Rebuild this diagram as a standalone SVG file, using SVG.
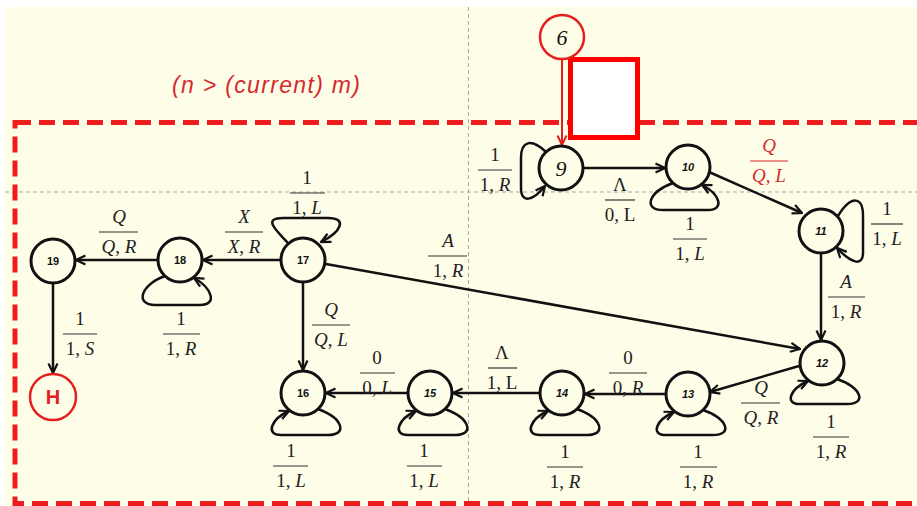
<svg xmlns="http://www.w3.org/2000/svg" width="917" height="506" viewBox="0 0 917 506">
<style>
.bg{fill:#fefde8}
.guide{stroke:#a8a8a0;stroke-width:1;stroke-dasharray:4,3;fill:none}
.box{fill:none;stroke:#ee1c1c;stroke-width:5;stroke-dasharray:16,8}
.node{fill:#fefde8;stroke:#111;stroke-width:3}
.rnode{fill:#fefde8;stroke:#e3201f;stroke-width:2.5}
.edge{fill:none;stroke:#111;stroke-width:2.5;marker-end:url(#ah)}
.redge{fill:none;stroke:#e3201f;stroke-width:2;marker-end:url(#ahr)}
.nl{font-family:"Liberation Sans",Arial,sans-serif;font-size:11px;font-weight:bold;text-anchor:middle;fill:#111}
.nli{font-style:italic}
.ns{font-family:"Liberation Serif","Times New Roman",serif;font-size:22px;font-style:italic;text-anchor:middle;fill:#111}
.lbl text{font-family:"Liberation Serif","Times New Roman",serif;font-size:19px;text-anchor:middle;fill:#222}
.lbl line{stroke:#333;stroke-width:1.2}
.red text{fill:#d42a2f}
.red line{stroke:#d42a2f}
.it{font-style:italic}
.title{font-family:"Liberation Sans",Arial,sans-serif;font-size:23px;font-style:italic;fill:#d42a2f}
</style>
<defs>
<marker id="ah" viewBox="0 0 12 12" refX="11" refY="6" markerWidth="12" markerHeight="12" markerUnits="userSpaceOnUse" orient="auto"><path d="M1.5,1.5 L11,6 L1.5,10.5" fill="none" stroke="#111" stroke-width="2.2"/></marker>
<marker id="ahr" viewBox="0 0 12 12" refX="11" refY="6" markerWidth="12" markerHeight="12" markerUnits="userSpaceOnUse" orient="auto"><path d="M1.5,1.5 L11,6 L1.5,10.5" fill="none" stroke="#e3201f" stroke-width="2"/></marker>
</defs>
<rect x="0" y="0" width="917" height="506" fill="#ffffff"/>
<rect class="bg" x="5" y="7" width="912" height="499"/>
<line class="guide" x1="468.5" y1="7" x2="468.5" y2="506"/>
<line class="guide" x1="5" y1="192" x2="917" y2="192"/>
<text class="title" x="172" y="93" textLength="188" lengthAdjust="spacing">(n &gt; (current) m)</text>
<rect class="box" x="15" y="122.5" width="930" height="381"/>
<rect x="570.5" y="59.5" width="67" height="78" fill="#ffffff" stroke="#f00" stroke-width="5"/>

<g id="connectors">
<path class="redge" d="M562,60 L562,145"/>
<path class="edge" d="M584,168 L665,168"/>
<path class="edge" d="M709,172 L802,213"/>
<path class="edge" d="M821,254 L821,340"/>
<path class="edge" d="M799,366 L710,392"/>
<path class="edge" d="M665,394 L585,394"/>
<path class="edge" d="M539,393 L453,393"/>
<path class="edge" d="M407,393 L326,393"/>
<path class="edge" d="M303,283 L303,370"/>
<path class="edge" d="M326,264 L800,349"/>
<path class="edge" d="M280,260 L203,260"/>
<path class="edge" d="M157,260 L76,260"/>
<path class="edge" d="M53,284 L53,373"/>
<!-- self loops -->
<path class="edge" transform="translate(561,168)" d="M-15,-16 C-30,-30 -40,-27 -40,-10 L-40,20 C-40,36 -28,33 -16,18"/>
<path class="edge" transform="translate(688,167) scale(-1,1)" d="M15,16 C40,25 45,43 25,43 L-20,43 C-37,43 -32,27 -14,18"/>
<path class="edge" transform="translate(821,231)" d="M17,-15 C30,-36 42,-35 42,-15 L42,22 C42,36 30,32 16,17"/>
<path class="edge" transform="translate(822,363)" d="M15,16 C40,25 45,41 25,41 L-22,41 C-38,41 -32,26 -14,18"/>
<path class="edge" transform="translate(688,394)" d="M15,16 C40,25 45,41 25,41 L-22,41 C-38,41 -32,26 -14,18"/>
<path class="edge" transform="translate(562,393)" d="M15,16 C40,25 45,42 25,42 L-22,42 C-38,42 -32,26 -14,18"/>
<path class="edge" transform="translate(430,393)" d="M15,16 C40,25 45,42 25,42 L-22,42 C-38,42 -32,26 -14,18"/>
<path class="edge" transform="translate(303,393)" d="M15,16 C40,25 45,42 25,42 L-22,42 C-38,42 -32,26 -14,18"/>
<path class="edge" transform="translate(303,260)" d="M-15,-17 C-25,-28 -42,-42 -20,-42 L25,-42 C45,-42 38,-28 18,-18"/>
<path class="edge" transform="translate(180,260) scale(-1,1)" d="M15,16 C40,25 45,45 25,45 L-20,45 C-38,45 -32,28 -14,18"/>
</g>

<g id="labels">
<g class="lbl"><text x="495" y="161">1</text><line x1="478" y1="170" x2="512" y2="170"/><text x="495" y="191">1, <tspan class="it">R</tspan></text></g>
<g class="lbl"><text x="620" y="191">Λ</text><line x1="605" y1="200" x2="635" y2="200"/><text x="620" y="221">0, L</text></g>
<g class="lbl"><text x="690" y="230">1</text><line x1="673" y1="239" x2="707" y2="239"/><text x="690" y="260">1, <tspan class="it">L</tspan></text></g>
<g class="lbl red"><text x="769" y="152" class="it">Q</text><line x1="750" y1="161" x2="788" y2="161"/><text x="769" y="182"><tspan class="it">Q</tspan>, <tspan class="it">L</tspan></text></g>
<g class="lbl"><text x="887" y="215">1</text><line x1="871" y1="224" x2="903" y2="224"/><text x="887" y="245">1, <tspan class="it">L</tspan></text></g>
<g class="lbl"><text x="846" y="288" class="it">A</text><line x1="828" y1="297" x2="865" y2="297"/><text x="846" y="318">1, <tspan class="it">R</tspan></text></g>
<g class="lbl"><text x="831" y="428">1</text><line x1="813" y1="437" x2="849" y2="437"/><text x="831" y="458">1, <tspan class="it">R</tspan></text></g>
<g class="lbl"><text x="761" y="394" class="it">Q</text><line x1="741" y1="403" x2="780" y2="403"/><text x="761" y="424"><tspan class="it">Q</tspan>, <tspan class="it">R</tspan></text></g>
<g class="lbl"><text x="698" y="458">1</text><line x1="680" y1="467" x2="717" y2="467"/><text x="698" y="488">1, <tspan class="it">R</tspan></text></g>
<g class="lbl"><text x="628" y="364">0</text><line x1="609" y1="373" x2="647" y2="373"/><text x="628" y="394">0, <tspan class="it">R</tspan></text></g>
<g class="lbl"><text x="565" y="458">1</text><line x1="547" y1="467" x2="583" y2="467"/><text x="565" y="488">1, <tspan class="it">R</tspan></text></g>
<g class="lbl"><text x="502" y="359">Λ</text><line x1="488" y1="368" x2="517" y2="368"/><text x="502" y="389">1, L</text></g>
<g class="lbl"><text x="424" y="457">1</text><line x1="407" y1="466" x2="442" y2="466"/><text x="424" y="487">1, <tspan class="it">L</tspan></text></g>
<g class="lbl"><text x="377" y="364">0</text><line x1="360" y1="373" x2="395" y2="373"/><text x="377" y="394">0, <tspan class="it">L</tspan></text></g>
<g class="lbl"><text x="291" y="457">1</text><line x1="273" y1="466" x2="308" y2="466"/><text x="291" y="487">1, <tspan class="it">L</tspan></text></g>
<g class="lbl"><text x="331" y="316" class="it">Q</text><line x1="312" y1="325" x2="350" y2="325"/><text x="331" y="346"><tspan class="it">Q</tspan>, <tspan class="it">L</tspan></text></g>
<g class="lbl"><text x="448" y="247" class="it">A</text><line x1="428" y1="256" x2="467" y2="256"/><text x="448" y="277">1, <tspan class="it">R</tspan></text></g>
<g class="lbl"><text x="307" y="184">1</text><line x1="290" y1="193" x2="325" y2="193"/><text x="307" y="214">1, <tspan class="it">L</tspan></text></g>
<g class="lbl"><text x="244" y="223" class="it">X</text><line x1="225" y1="232" x2="263" y2="232"/><text x="244" y="253"><tspan class="it">X</tspan>, <tspan class="it">R</tspan></text></g>
<g class="lbl"><text x="181" y="325">1</text><line x1="163" y1="334" x2="200" y2="334"/><text x="181" y="355">1, <tspan class="it">R</tspan></text></g>
<g class="lbl"><text x="119" y="223" class="it">Q</text><line x1="99" y1="232" x2="138" y2="232"/><text x="119" y="253"><tspan class="it">Q</tspan>, <tspan class="it">R</tspan></text></g>
<g class="lbl"><text x="80" y="325">1</text><line x1="63" y1="334" x2="97" y2="334"/><text x="80" y="355">1, <tspan class="it">S</tspan></text></g>
</g>

<g id="n6"><circle class="rnode" cx="562" cy="37" r="22"/><text class="ns" x="562" y="45">6</text></g>
<g id="n9"><circle class="node" cx="561" cy="168" r="22"/><text class="ns" x="561" y="176">9</text></g>
<g id="n10"><circle class="node" cx="688" cy="167" r="22"/><text class="nl nli" x="688" y="171">10</text></g>
<g id="n11"><circle class="node" cx="821" cy="231" r="22"/><text class="nl nli" x="821" y="235">11</text></g>
<g id="n12"><circle class="node" cx="822" cy="363" r="22"/><text class="nl nli" x="822" y="367">12</text></g>
<g id="n13"><circle class="node" cx="688" cy="394" r="22"/><text class="nl nli" x="688" y="398">13</text></g>
<g id="n14"><circle class="node" cx="562" cy="393" r="22"/><text class="nl nli" x="562" y="397">14</text></g>
<g id="n15"><circle class="node" cx="430" cy="393" r="22"/><text class="nl nli" x="430" y="397">15</text></g>
<g id="n16"><circle class="node" cx="303" cy="393" r="22"/><text class="nl" x="303" y="397">16</text></g>
<g id="n17"><circle class="node" cx="303" cy="260" r="22"/><text class="nl" x="303" y="264">17</text></g>
<g id="n18"><circle class="node" cx="180" cy="260" r="22"/><text class="nl" x="180" y="264">18</text></g>
<g id="n19"><circle class="node" cx="53" cy="261" r="22"/><text class="nl" x="53" y="265">19</text></g>
<g id="nH"><circle class="rnode" cx="53" cy="397" r="23"/><text x="53" y="404" font-family="Liberation Sans,Arial,sans-serif" font-size="20" font-weight="bold" fill="#e3201f" text-anchor="middle">H</text></g>
</svg>
